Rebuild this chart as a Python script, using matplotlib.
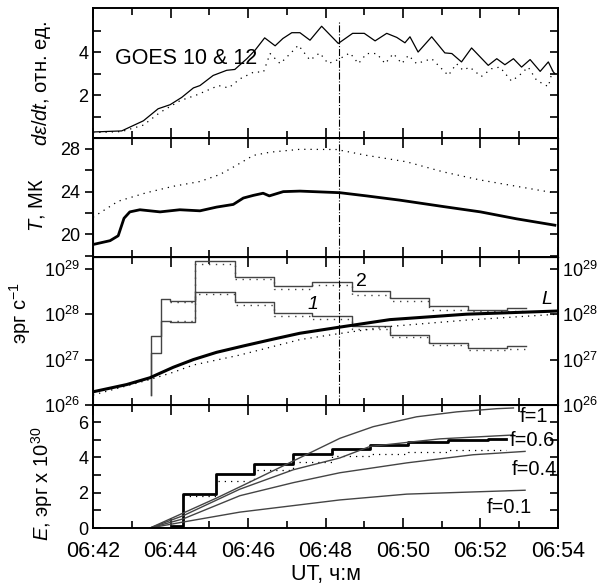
import numpy as np
import matplotlib
matplotlib.use('Agg')
import matplotlib.pyplot as plt
from matplotlib.ticker import MultipleLocator, FixedLocator, NullLocator

plt.rcParams['font.family'] = ['Liberation Sans', 'DejaVu Sans']
plt.rcParams['mathtext.fontset'] = 'custom'
plt.rcParams['mathtext.rm'] = 'Liberation Sans'
plt.rcParams['mathtext.it'] = 'Liberation Sans:italic'
plt.rcParams['mathtext.bf'] = 'Liberation Sans:bold'

# time axis: minutes after 06:42 UT
time_labels = ['06:42', '06:44', '06:46', '06:48', '06:50', '06:52', '06:54']

# GOES derivative (solid / dotted)
goes_t = [0, 0.74, 1.3, 1.68, 1.99, 2.29, 2.59, 2.76, 3.1, 3.45, 3.66, 3.97, 4.18, 4.43, 4.7, 4.9,
          5.13, 5.34, 5.6, 5.9, 6.33, 6.7, 7.0, 7.28, 7.58, 7.84, 8.05, 8.18, 8.39, 8.74, 9.08, 9.26,
          9.51, 9.77, 10.2, 10.42, 10.63, 10.85, 11.06, 11.28, 11.54, 11.75, 11.88, 11.92]
goes_v = [0.28, 0.33, 0.8, 1.36, 1.55, 1.89, 2.33, 2.44, 2.91, 3.15, 3.19, 3.69, 4.08, 4.66, 4.29, 4.63,
          4.9, 4.9, 4.55, 5.2, 4.4, 4.87, 4.87, 4.52, 4.87, 4.68, 4.43, 4.71, 4.0, 4.71, 3.96, 3.93,
          3.54, 4.19, 3.38, 3.69, 3.41, 3.69, 3.3, 3.65, 3.1, 3.54, 3.07, 3.0]
goes2_t = [0, 0.74, 1.3, 1.73, 2.25, 2.67, 3.24, 3.5, 3.8, 4.15, 4.4, 4.57, 4.83, 5.13, 5.3, 5.6,
           5.85, 6.07, 6.33, 6.63, 6.85, 7.06, 7.32, 7.54, 7.75, 7.97, 8.14, 8.35, 8.74, 9.17, 9.38,
           9.55, 9.72, 10.02, 10.28, 10.5, 10.8, 11.0, 11.23, 11.45, 11.75, 11.88]
goes2_v = [0.25, 0.3, 0.6, 1.19, 1.74, 2.0, 2.44, 2.33, 2.76, 3.07, 3.07, 3.93, 3.46, 4.0, 4.32, 3.62,
           3.96, 3.46, 3.65, 3.96, 3.46, 3.93, 3.93, 3.46, 3.93, 3.46, 3.85, 3.46, 3.69, 2.91, 3.46,
           3.15, 3.3, 2.86, 3.22, 3.3, 2.65, 2.91, 3.3, 2.68, 2.39, 3.3]

# temperature, MK
temp_t = [0, 0.44, 0.65, 0.8, 0.95, 1.21, 1.73, 2.24, 2.76, 3.19, 3.62, 3.88, 4.14, 4.39, 4.55, 4.91,
          5.34, 6.37, 7.06, 7.92, 9.04, 10.0, 10.93, 11.92]
temp_v = [19.04, 19.4, 19.86, 21.5, 22.1, 22.3, 22.1, 22.3, 22.2, 22.55, 22.8, 23.4, 23.65, 23.85, 23.6,
          24.0, 24.05, 23.9, 23.6, 23.2, 22.6, 22.1, 21.45, 20.85]
temp2_t = [0, 0.65, 1.38, 2.07, 2.76, 3.27, 3.62, 4.14, 4.57, 5.34, 6.29, 7.06, 8.09, 9.04, 9.98, 10.93, 11.88]
temp2_v = [21.6, 23.1, 23.9, 24.5, 24.95, 25.6, 26.3, 27.4, 27.7, 27.97, 27.95, 27.4, 26.8, 25.85, 25.1,
           24.5, 23.9]

# power, log10(erg/s)
hist_base = 26.22
hist_edges = [1.5, 1.75, 1.99, 2.63, 3.66, 4.67, 5.66, 6.68, 7.66, 8.67, 9.69, 10.68, 11.17]
pow2_log = [27.51, 28.34, 28.29, 29.18, 28.83, 28.63, 28.72, 28.5, 28.36, 28.17, 28.09, 28.14]
pow1_log = [27.15, 27.85, 27.83, 28.49, 28.26, 28.02, 27.96, 27.73, 27.54, 27.36, 27.25, 27.31]
hist2_edges = [1.99, 2.63, 3.66, 4.67, 5.66, 6.68, 7.66, 8.67, 9.69, 10.68, 11.17]
pow2d_log = [28.27, 29.11, 28.78, 28.56, 28.64, 28.42, 28.28, 28.1, 28.06, 28.08]
pow1d_log = [27.84, 28.44, 28.2, 27.96, 27.89, 27.67, 27.49, 27.32, 27.22, 27.24]
lum_t = [0, 0.87, 1.47, 2.07, 2.59, 3.19, 3.88, 4.65, 5.34, 6.33, 7.66, 9.64, 12.0]
lum_log = [26.29, 26.45, 26.6, 26.83, 27.0, 27.16, 27.3, 27.45, 27.58, 27.71, 27.88, 28.0, 28.07]
lum2_t = [0, 1.47, 2.07, 2.59, 3.79, 5.34, 6.33, 7.66, 9.64, 12.0]
lum2_log = [26.22, 26.56, 26.72, 26.88, 27.1, 27.44, 27.57, 27.73, 27.87, 28.0]

# energy, 10^30 erg
en_edges = [1.47, 2.03, 2.33, 3.17, 4.16, 5.15, 6.16, 7.15, 8.14, 9.17, 10.2, 10.67]
en_v = [0, 0.1, 1.92, 3.07, 3.65, 4.19, 4.47, 4.68, 4.86, 5.0, 5.05]
en2_edges = [2.33, 3.17, 4.16, 5.15, 6.16, 7.15, 8.14, 9.17, 10.2, 10.67]
en2_v = [1.79, 2.66, 3.26, 3.73, 4.06, 4.19, 4.3, 4.4, 4.44]
f_curves = {
    'f=1': ([1.47, 2.33, 3.19, 4.14, 5.17, 6.37, 7.23, 8.35, 9.39, 10.42, 10.85],
            [0, 0.85, 1.7, 2.7, 3.8, 5.08, 5.74, 6.3, 6.58, 6.76, 6.8]),
    'f=0.6': ([1.47, 2.33, 3.79, 5.17, 6.37, 7.15, 8.95, 10.85],
              [0, 0.7, 2.2, 3.3, 3.97, 4.62, 5.05, 5.27]),
    'f=0.4': ([1.47, 2.33, 3.79, 5.17, 6.37, 8.1, 9.81, 11.15],
              [0, 0.52, 1.83, 2.57, 3.13, 3.69, 4.15, 4.34]),
    'f=0.1': ([1.47, 2.33, 3.79, 6.37, 8.1, 11.15],
              [0, 0.34, 0.9, 1.59, 1.92, 2.14]),
}
f_label_pos = {'f=1': (11.02, 6.3), 'f=0.6': (10.76, 4.96), 'f=0.4': (10.81, 3.34), 'f=0.1': (10.17, 1.16)}

t_mark = 6.36
dots = (0, (1, 4))


def stairs(ax, edges, levels, base=None, **kw):
    x = list(edges)
    y = list(levels) + [levels[-1]]
    if base is not None:
        x = [edges[0]] + x
        y = [base] + y
    ax.step(x, y, where='post', **kw)


def style_axes(ax, left_dir='in'):
    for s in ax.spines.values():
        s.set_linewidth(1.4)
    ax.set_xlim(0, 12)
    ax.xaxis.set_major_locator(MultipleLocator(2))
    ax.xaxis.set_minor_locator(MultipleLocator(1))
    ax.tick_params(axis='x', which='both', direction='in', top=True, bottom=True, labelbottom=False,
                   width=1.2)
    ax.tick_params(axis='x', which='major', length=7)
    ax.tick_params(axis='x', which='minor', length=5)
    ax.tick_params(axis='y', which='both', direction=left_dir, right=(left_dir == 'in'),
                   labelsize=13, width=1.2, length=6)


fig = plt.figure(figsize=(6.02, 5.87), dpi=100)
L, W = 0.1545, 0.7724
ax1 = fig.add_axes([L, 0.7649, W, 0.2215])
ax2 = fig.add_axes([L, 0.5622, W, 0.2027])
ax3 = fig.add_axes([L, 0.3101, W, 0.2521])
ax4 = fig.add_axes([L, 0.1005, W, 0.2096])

# panel 1
ax1.plot(goes_t, goes_v, color='black', lw=0.9)
ax1.plot(goes2_t, goes2_v, color='black', lw=0.9, ls=dots)
ax1.axvline(t_mark, ymax=0.89, color='black', lw=0.8, ls='-.')
ax1.text(0.57, 3.71, 'GOES 10 & 12', fontsize=15.5, ha='left', va='center')
ax1.set_ylim(0, 6.05)
style_axes(ax1)
ax1.yaxis.set_major_locator(FixedLocator([2, 4]))
ax1.yaxis.set_minor_locator(FixedLocator([1, 3, 5]))
ax1.set_ylabel(r'$d\varepsilon/dt$, отн. ед.', fontsize=14.5)
ax1.yaxis.set_label_coords(-0.086, 0.42)

# panel 2
ax2.plot(temp_t, temp_v, color='black', lw=2)
ax2.plot(temp2_t, temp2_v, color='black', lw=0.9, ls=dots)
ax2.axvline(t_mark, color='black', lw=0.8, ls='-.')
ax2.set_ylim(17.87, 29.03)
style_axes(ax2, 'out')
ax2.yaxis.set_major_locator(FixedLocator([20, 24, 28]))
ax2.yaxis.set_minor_locator(FixedLocator([18, 22, 26]))
ax2.set_ylabel(r'$T$, МК', fontsize=14.5)
ax2.yaxis.set_label_coords(-0.1, 0.44)
ax2r = ax2.twinx()
ax2r.set_ylim(ax2.get_ylim())
ax2r.yaxis.set_major_locator(FixedLocator([20, 24, 28]))
ax2r.yaxis.set_minor_locator(FixedLocator([18, 22, 26]))
ax2r.tick_params(axis='y', which='both', direction='in', labelright=False, width=1.2, length=6)

# panel 3
ax3.set_yscale('log')
stairs(ax3, hist_edges, 10.0 ** np.array(pow2_log), base=10 ** hist_base, color='#444444', lw=1)
stairs(ax3, hist_edges, 10.0 ** np.array(pow1_log), base=10 ** hist_base, color='#444444', lw=1)
stairs(ax3, hist2_edges, 10.0 ** np.array(pow2d_log), color='#444444', lw=1, ls=dots)
stairs(ax3, hist2_edges, 10.0 ** np.array(pow1d_log), color='#444444', lw=1, ls=dots)
ax3.plot(lum_t, 10.0 ** np.array(lum_log), color='black', lw=2.2)
ax3.plot(lum2_t, 10.0 ** np.array(lum2_log), color='black', lw=0.9, ls=dots)
ax3.axvline(t_mark, color='black', lw=0.8, ls='-.')
ax3.text(5.68, 10 ** 28.22, '1', fontsize=14, style='italic', ha='center', va='center')
ax3.text(6.94, 10 ** 28.72, '2', fontsize=14, ha='center', va='center')
ax3.text(11.72, 10 ** 28.33, 'L', fontsize=14, style='italic', ha='center', va='center')
ylim3 = (1e26, 10 ** 29.26)
ax3.set_ylim(ylim3)
style_axes(ax3, 'out')
ax3.yaxis.set_major_locator(FixedLocator([1e26, 1e27, 1e28, 1e29]))
ax3.yaxis.set_minor_locator(NullLocator())
ax3.set_ylabel(r'эрг с$^{-1}$', fontsize=14.5)
ax3.yaxis.set_label_coords(-0.129, 0.62)
ax3r = ax3.twinx()
ax3r.set_yscale('log')
ax3r.set_ylim(ylim3)
ax3r.yaxis.set_major_locator(FixedLocator([1e26, 1e27, 1e28, 1e29]))
ax3r.yaxis.set_minor_locator(NullLocator())
ax3r.tick_params(axis='y', which='both', direction='in', labelsize=13, width=1.2, length=6, pad=3)

# panel 4
stairs(ax4, en_edges, en_v, color='black', lw=2)
stairs(ax4, en2_edges, en2_v, color='black', lw=0.9, ls=dots)
for name, (ft, fv) in f_curves.items():
    ax4.plot(ft, fv, color='#444444', lw=1)
    lx, ly = f_label_pos[name]
    ax4.text(lx, ly, name, fontsize=14.5, ha='left', va='center')
ax4.set_ylim(0, 6.97)
style_axes(ax4)
ax4.yaxis.set_major_locator(FixedLocator([0, 2, 4, 6]))
ax4.yaxis.set_minor_locator(FixedLocator([1, 3, 5]))
ax4.set_xticks(np.arange(len(time_labels)) * 2)
ax4.set_xticklabels(time_labels)
ax4.tick_params(axis='x', labelbottom=True, labelsize=15.5, pad=9)
ax4.set_xlabel('UT, ч:м', fontsize=15.5, labelpad=2)
ax4.set_ylabel(r'$E$, эрг x 10$^{30}$', fontsize=14.5)
ax4.yaxis.set_label_coords(-0.082, 0.36)

fig.savefig('out.png', dpi=100)
